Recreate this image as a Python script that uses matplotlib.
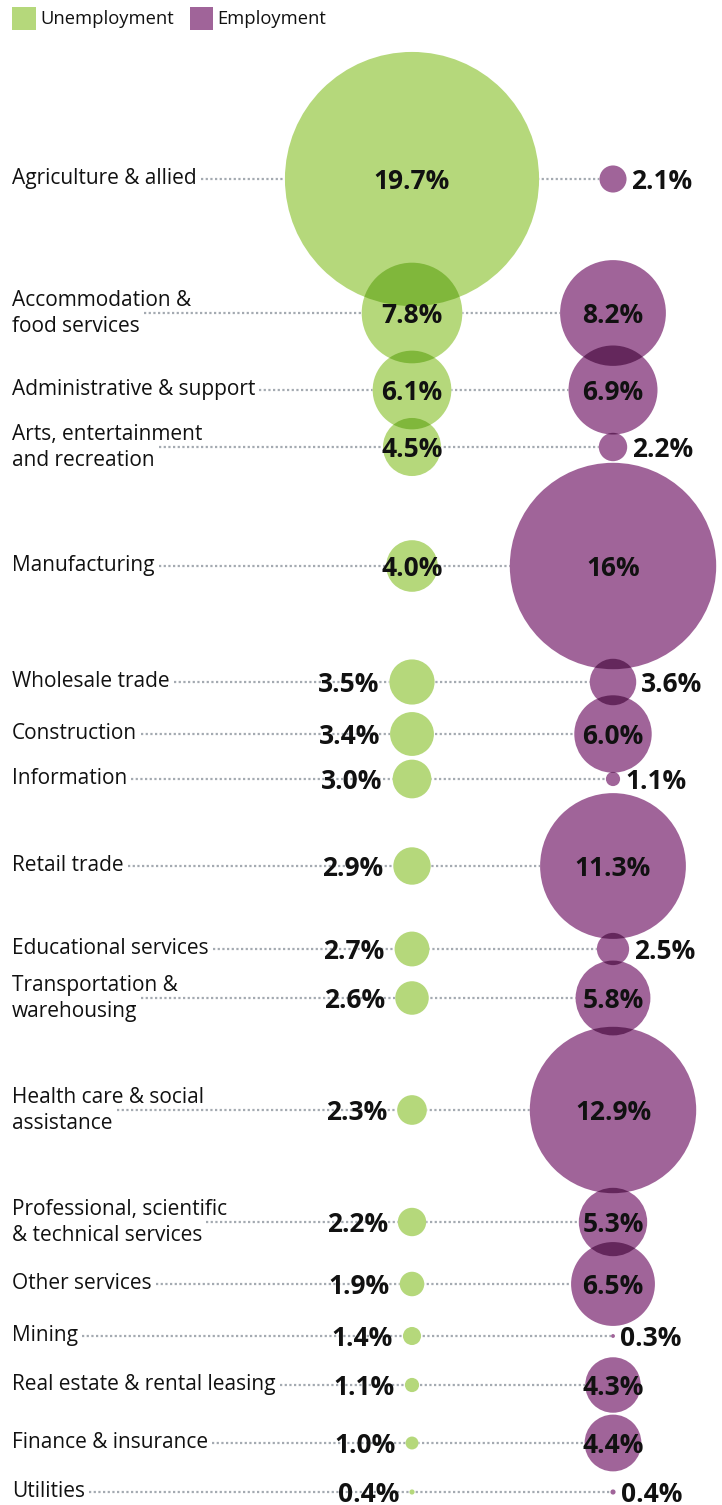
import numpy as np
import matplotlib.pyplot as plt
from matplotlib.patches import Circle, Rectangle
from matplotlib.colors import to_rgb

plt.rcParams['font.family'] = ['Open Sans', 'DejaVu Sans']

categories = [
    'Agriculture & allied', 'Accommodation &\nfood services', 'Administrative & support',
    'Arts, entertainment\nand recreation', 'Manufacturing', 'Wholesale trade', 'Construction',
    'Information', 'Retail trade', 'Educational services', 'Transportation &\nwarehousing',
    'Health care & social\nassistance', 'Professional, scientific\n& technical services',
    'Other services', 'Mining', 'Real estate & rental leasing', 'Finance & insurance', 'Utilities',
]
unemployment = [19.7, 7.8, 6.1, 4.5, 4.0, 3.5, 3.4, 3.0, 2.9, 2.7, 2.6, 2.3, 2.2, 1.9, 1.4, 1.1, 1.0, 0.4]
employment = [2.1, 8.2, 6.9, 2.2, 16, 3.6, 6.0, 1.1, 11.3, 2.5, 5.8, 12.9, 5.3, 6.5, 0.3, 4.3, 4.4, 0.4]

# layout (pixels, figure is 722 x 1505)
row_y = [179, 313, 390, 447, 566, 682, 734, 779, 866, 949, 998, 1110, 1222, 1284, 1336, 1385, 1443, 1492]
x_unemp, x_emp = 412, 613
px_per_pct = 6.45
inside_min = 4.0
cat_size = 15
val_size = 19
line_gap = 26.5

green = '#b5d87b'
purple = '#a06499'
dot_grey = '#a4aab1'
ink = '#111111'


def fmt(v):
    if v >= 10 and v == int(v):
        return f'{int(v)}%'
    return f'{v:.1f}%'


def multiply(c):
    r = np.array(to_rgb(c))
    return tuple(r * r)


fig = plt.figure(figsize=(7.22, 15.05), dpi=100)
ax = fig.add_axes([0, 0, 1, 1])
ax.set_xlim(0, 722)
ax.set_ylim(1505, 0)
ax.set_aspect('equal')
ax.axis('off')
renderer = fig.canvas.get_renderer()

# legend
ax.add_patch(Rectangle((12, 7), 24, 23, color=green, lw=0))
ax.text(40, 24, 'Unemployment', fontsize=13.2, va='baseline', color=ink)
ax.add_patch(Rectangle((190, 7), 23, 23, color=purple, lw=0))
ax.text(217, 24, 'Employment', fontsize=13.2, va='baseline', color=ink)

# category labels and dotted leader lines
for cat, y in zip(categories, row_y):
    lines = cat.split('\n')
    n = len(lines)
    mid = y + (5 if n == 1 else 6)
    for k, txt in enumerate(lines):
        t = ax.text(12, mid + (k - (n - 1) / 2) * line_gap, txt, fontsize=cat_size,
                    va='baseline', ha='left', color=ink)
    bb = t.get_window_extent(renderer)
    x_end = ax.transData.inverted().transform((bb.x1, bb.y0))[0]
    ax.plot([x_end + 4, x_emp], [y, y], color=dot_grey, lw=1.6, ls=(0, (1, 1.1)), zorder=1)

# bubbles
for vals, xc, col in [(unemployment, x_unemp, green), (employment, x_emp, purple)]:
    dark = multiply(col)
    circles = []
    for v, y in zip(vals, row_y):
        r = v * px_per_pct
        ax.add_patch(Circle((xc, y), r, color='white', lw=0, zorder=2))
        c = Circle((xc, y), r, color=col, lw=0, zorder=3)
        ax.add_patch(c)
        circles.append((y, r, c))
    for i in range(len(circles)):
        for j in range(i + 1, len(circles)):
            yi, ri, ci = circles[i]
            yj, rj, cj = circles[j]
            if abs(yj - yi) < ri + rj:
                ov = Circle((xc, yj), rj, color=dark, lw=0, zorder=4)
                ax.add_patch(ov)
                ov.set_clip_path(ci)

# value labels
for v, y in zip(unemployment, row_y):
    r = v * px_per_pct
    if v >= inside_min:
        x, ha = x_unemp, 'center'
    else:
        x, ha = x_unemp - r - 10, 'right'
    ax.text(x, y + 10, fmt(v), fontsize=val_size, fontweight='bold', ha=ha,
            va='baseline', color=ink, zorder=5)

for v, y in zip(employment, row_y):
    r = v * px_per_pct
    if v >= inside_min:
        x, ha = x_emp, 'center'
    else:
        x, ha = x_emp + r + 5, 'left'
    ax.text(x, y + 10, fmt(v), fontsize=val_size, fontweight='bold', ha=ha,
            va='baseline', color=ink, zorder=5)

fig.savefig('out.png', dpi=100)
